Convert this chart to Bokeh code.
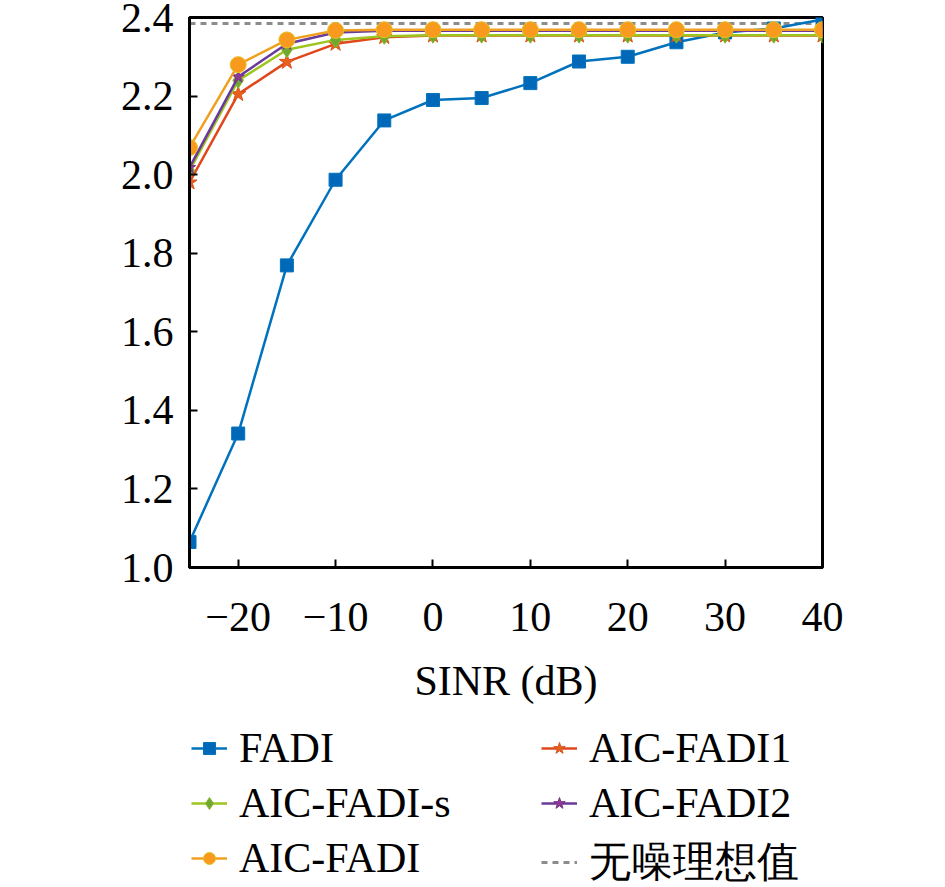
from bokeh.plotting import figure
from bokeh.layouts import column, row
from bokeh.embed import file_html
from bokeh.resources import INLINE
from bokeh.models import Legend, LegendItem, FixedTicker

sinr = [-25, -20, -15, -10, -5, 0, 5, 10, 15, 20, 25, 30, 35, 40]

fadi = [1.065, 1.341, 1.769, 1.987, 2.138, 2.190, 2.195, 2.233, 2.288, 2.300, 2.337, 2.362, 2.372, 2.395]
aic_fadi1 = [1.980, 2.205, 2.287, 2.333, 2.350, 2.354, 2.354, 2.354, 2.354, 2.354, 2.354, 2.354, 2.354, 2.354]
aic_fadi_s = [2.010, 2.240, 2.318, 2.343, 2.352, 2.355, 2.355, 2.355, 2.355, 2.355, 2.355, 2.355, 2.355, 2.355]
aic_fadi2 = [2.018, 2.249, 2.333, 2.362, 2.366, 2.366, 2.366, 2.366, 2.366, 2.366, 2.366, 2.366, 2.366, 2.366]
aic_fadi = [2.069, 2.280, 2.343, 2.367, 2.369, 2.369, 2.369, 2.369, 2.369, 2.369, 2.369, 2.369, 2.369, 2.369]
ideal = 2.385

x_ticks = [-20, -10, 0, 10, 20, 30, 40]
y_ticks = [1.0, 1.2, 1.4, 1.6, 1.8, 2.0, 2.2, 2.4]

FONT = "Liberation Serif, Times New Roman, serif"
FS = "42px"

# label, values, line colour, marker, size, fill, edge
series = [
    ("FADI", fadi, "#0072BD", "square", 13, "#0068B8", "#0072BD"),
    ("AIC-FADI1", aic_fadi1, "#E0471B", "star", 16, "#E8601C", "#D95319"),
    ("AIC-FADI-s", aic_fadi_s, "#9DC51E", "diamond", 16, "#6FA830", "#8DB72A"),
    ("AIC-FADI2", aic_fadi2, "#6A3A9A", "star", 13, "#8E3A96", "#7E2F8E"),
    ("AIC-FADI", aic_fadi, "#F0A020", "circle", 16, "#F79A1E", "#E8C020"),
]
ideal_style = dict(line_color="#8C8C8C", line_width=3, line_dash="6 5")

p = figure(width=922, height=719, x_range=(-25, 40), y_range=(1.0, 2.4),
           output_backend="svg", toolbar_location=None,
           min_border_left=189, min_border_top=17, min_border_right=100,
           min_border_bottom=152)
p.outline_line_color = "black"
p.outline_line_width = 3
p.xgrid.visible = False
p.ygrid.visible = False

for ax in (p.xaxis[0], p.yaxis[0]):
    ax.axis_line_width = 3
    ax.major_tick_line_width = 2
    ax.major_tick_in = 8
    ax.major_tick_out = 0
    ax.minor_tick_line_color = None
    ax.major_label_text_font = FONT
    ax.major_label_text_font_size = FS
    ax.major_label_text_color = "black"
    ax.major_label_text_line_height = 1.0

p.xaxis.ticker = FixedTicker(ticks=x_ticks)
p.yaxis.ticker = FixedTicker(ticks=y_ticks)
p.xaxis.major_label_overrides = {t: ("\u2212" + str(-t) if t < 0 else str(t)) for t in x_ticks}
p.yaxis.major_label_overrides = {t: "%.1f" % t for t in y_ticks}
p.xaxis.major_label_standoff = 35
p.yaxis.major_label_standoff = 16
p.xaxis.axis_label = "SINR (dB)"
p.xaxis.axis_label_text_font = FONT
p.xaxis.axis_label_text_font_size = FS
p.xaxis.axis_label_text_font_style = "normal"
p.xaxis.axis_label_text_color = "black"
p.xaxis.axis_label_standoff = 24

# noise-free ideal value (drawn first, under the curves)
p.line([sinr[0], sinr[-1]], [ideal, ideal], **ideal_style)

for name, vals, lc, mk, sz, fc, ec in series:
    p.line(sinr, vals, line_color=lc, line_width=2.5)
    p.scatter(sinr, vals, marker=mk, size=sz, fill_color=fc, line_color=ec)


def legend_panel(labels, width, left):
    # the series are drawn again outside this panel's range, only for the legend swatches
    f = figure(width=width, height=170, x_range=(-25, 40), y_range=(10, 11),
               min_border=0, min_border_left=left, min_border_top=5,
               x_axis_type=None, y_axis_type=None,
               output_backend="svg", toolbar_location=None)
    f.outline_line_color = None
    f.grid.visible = False
    lookup = {}
    for name, vals, lc, mk, sz, fc, ec in series:
        if name in labels:
            r = f.line(sinr, vals, line_color=lc, line_width=2.5)
            m = f.scatter(sinr, vals, marker=mk, size=sz, fill_color=fc, line_color=ec)
            lookup[name] = [r, m]
    if "无噪理想值" in labels:
        lookup["无噪理想值"] = [f.line([sinr[0], sinr[-1]], [ideal, ideal], **ideal_style)]
    lg = Legend(items=[LegendItem(label=k, renderers=lookup[k]) for k in labels])
    lg.label_text_font = FONT
    lg.label_text_font_size = FS
    lg.label_text_color = "black"
    lg.border_line_color = None
    lg.background_fill_alpha = 0
    lg.glyph_width = 36
    lg.glyph_height = 30
    lg.label_standoff = 12
    lg.spacing = 7
    lg.padding = 2
    lg.margin = 0
    lg.location = "top_left"
    f.add_layout(lg, "center")
    return f


la = legend_panel(["FADI", "AIC-FADI-s", "AIC-FADI"], 500, 191)
lb = legend_panel(["AIC-FADI1", "AIC-FADI2", "无噪理想值"], 422, 41)

open("out.html", "w").write(file_html(column(p, row(la, lb)), INLINE))
